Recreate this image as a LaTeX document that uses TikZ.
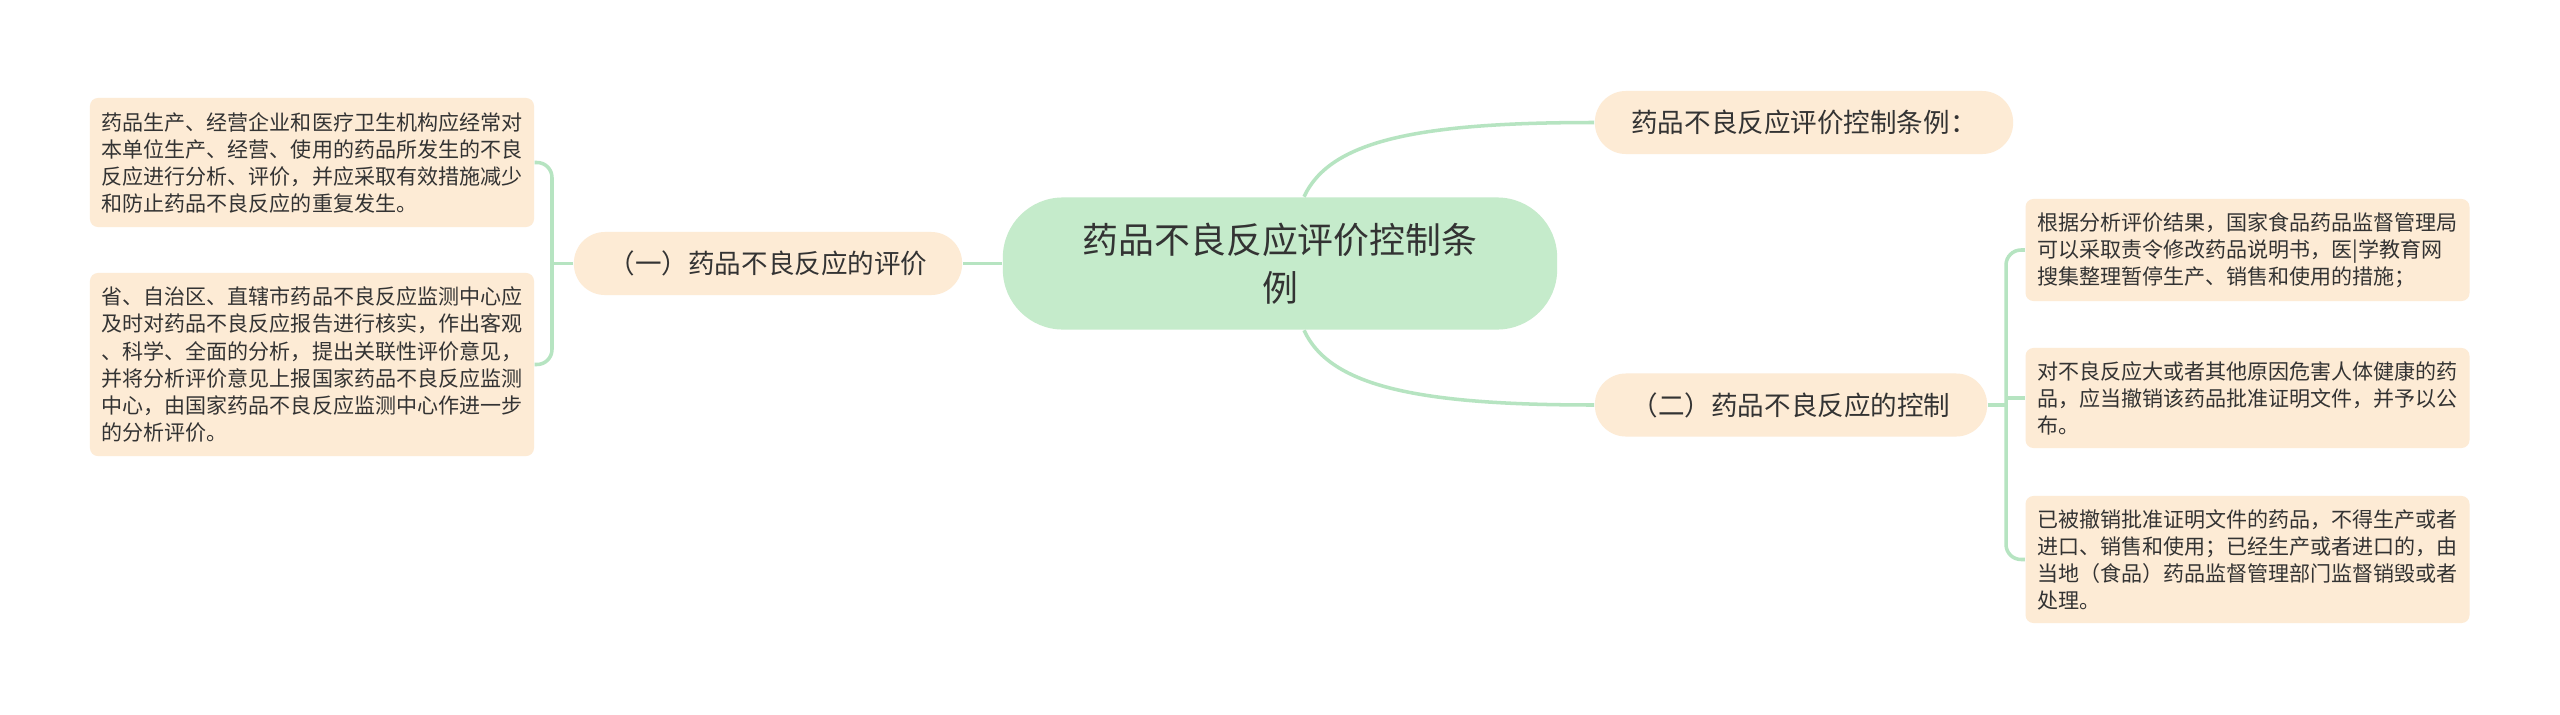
\documentclass[tikz,border=0pt]{standalone}
\usepackage{fontspec}
\newfontfamily\cjk{Noto Sans CJK SC}
\definecolor{rootfill}{HTML}{C5EBCB}
\definecolor{nodefill}{HTML}{FDEBD5}
\definecolor{linkcol}{HTML}{B6E4C1}
\definecolor{textcol}{HTML}{333333}
\begin{document}
\begin{tikzpicture}
        [x=0.01cm, y=-0.01cm,
        root/.style={fill=rootfill, rounded corners=0.6cm, minimum width=5.54cm, minimum height=1.32cm, align=center, text=textcol, font=\cjk\fontsize{10.2pt}{13.7pt}\selectfont},
        branch/.style={fill=nodefill, rounded corners=0.31cm, minimum height=0.63cm, text=textcol, font=\cjk\fontsize{7.55pt}{9pt}\selectfont},
        leaf/.style={fill=nodefill, rounded corners=0.08cm, minimum width=4.42cm, align=left, text=textcol, font=\cjk\fontsize{5.98pt}{7.68pt}\selectfont},
        link/.style={draw=linkcol, line width=1pt}]

        \fill[white] (0,0) rectangle (2560,715);

        \node[root] (root) at (1280,263.5) {药品不良反应评价控制条\\例};
        \node[branch, minimum width=4.18cm] (law) at (1804,122.5) {药品不良反应评价控制条例：};
        \node[branch, minimum width=3.88cm] (eval) at (768,263.5) {（一）药品不良反应的评价};
        \node[branch, minimum width=3.92cm] (ctrl) at (1791,405) {（二）药品不良反应的控制};

        \node[leaf, minimum height=1.29cm] (l1) at (312,162.5) {药品生产、经营企业和医疗卫生机构应经常对\\本单位生产、经营、使用的药品所发生的不良\\反应进行分析、评价，并应采取有效措施减少\\和防止药品不良反应的重复发生。};
        \node[leaf, minimum height=1.83cm] (l2) at (312,364.5) {省、自治区、直辖市药品不良反应监测中心应\\及时对药品不良反应报告进行核实，作出客观\\、科学、全面的分析，提出关联性评价意见，\\并将分析评价意见上报国家药品不良反应监测\\中心，由国家药品不良反应监测中心作进一步\\的分析评价。};
        \node[leaf, minimum height=1.02cm] (r1) at (2247.5,250) {根据分析评价结果，国家食品药品监督管理局\\可以采取责令修改药品说明书，医|学教育网\\搜集整理暂停生产、销售和使用的措施；};
        \node[leaf, minimum height=1.00cm] (r2) at (2247.5,398) {对不良反应大或者其他原因危害人体健康的药\\品，应当撤销该药品批准证明文件，并予以公\\布。};
        \node[leaf, minimum height=1.27cm] (r3) at (2247.5,559.5) {已被撤销批准证明文件的药品，不得生产或者\\进口、销售和使用；已经生产或者进口的，由\\当地（食品）药品监督管理部门监督销毁或者\\处理。};

        \coordinate (lj) at (552,263.5);
        \coordinate (rj) at (2006,405);

        % root to branches
        \draw[link] ([xshift=0.24cm]root.north) .. controls (1330,140) and (1420,122.5) .. (law.west);
        \draw[link] ([xshift=0.24cm]root.south) .. controls (1330,387) and (1420,405) .. (ctrl.west);
        \draw[link] (root.west) -- (eval.east);

        % branches to leaves
        \draw[link] (eval.west) -- (lj);
        \draw[link, rounded corners=0.15cm] (l1.east) -| (lj) |- (l2.east);
        \draw[link] (ctrl.east) -- (rj);
        \draw[link, rounded corners=0.15cm] (r1.west) -| (rj) |- (r3.west);
        \draw[link] (r2.west) -- (r2.west -| rj);

    \end{tikzpicture}
\end{document}
